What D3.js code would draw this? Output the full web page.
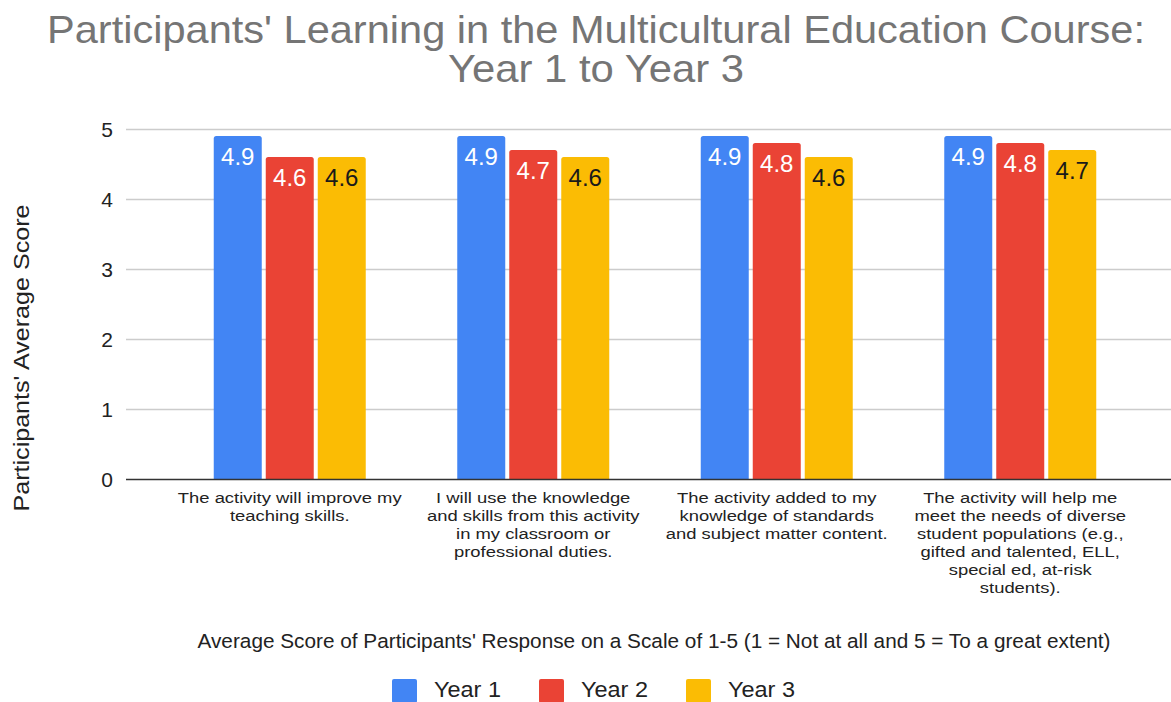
<!DOCTYPE html>
<html>
<head>
<meta charset="utf-8">
<script src="https://cdn.jsdelivr.net/npm/d3@7"></script>
<style>
  html, body { margin: 0; padding: 0; background: #fff; }
  svg { display: block; }
  text { font-family: "Liberation Sans", Arial, sans-serif; }
</style>
</head>
<body>
<svg id="chart" width="1171" height="702"></svg>
<script>
// Survey statements (x categories)
const categories = [
  ["The activity will improve my", "teaching skills."],
  ["I will use the knowledge", "and skills from this activity", "in my classroom or", "professional duties."],
  ["The activity added to my", "knowledge of standards", "and subject matter content."],
  ["The activity will help me", "meet the needs of diverse", "student populations (e.g.,", "gifted and talented, ELL,", "special ed, at-risk", "students)."]
];
const seriesNames = ["Year 1", "Year 2", "Year 3"];
const year1 = [4.9, 4.9, 4.9, 4.9];
const year2 = [4.6, 4.7, 4.8, 4.8];
const year3 = [4.6, 4.6, 4.6, 4.7];
const yTicks = [0, 1, 2, 3, 4, 5];
const colors = ["#4285F4", "#EA4335", "#FBBC04"];
const labelColors = ["#ffffff", "#ffffff", "#1a1a1a"];

const titleLines = ["Participants' Learning in the Multicultural Education Course:", "Year 1 to Year 3"];
const yTitle = "Participants' Average Score";
const xTitle = "Average Score of Participants' Response on a Scale of 1-5 (1 = Not at all and 5 = To a great extent)";

const seriesValues = [year1, year2, year3];
const svg = d3.select("#chart");

const plot = { left: 126, right: 1171, top: 129, bottom: 479 };
const y = d3.scaleLinear().domain([0, 5]).range([plot.bottom, plot.top]);
const x = d3.scaleBand().domain(d3.range(categories.length)).range([168, 1142]).padding(0);
const xSub = d3.scaleBand().domain(d3.range(seriesNames.length)).range([-76, 76]).paddingInner(4 / 52).paddingOuter(0);

// Title
const title = svg.append("g").attr("fill", "#757575").attr("font-size", 39);
title.append("text").attr("x", 596).attr("y", 43).attr("text-anchor", "middle")
  .attr("textLength", 1098).attr("lengthAdjust", "spacingAndGlyphs").text(titleLines[0]);
title.append("text").attr("x", 596).attr("y", 82).attr("text-anchor", "middle")
  .attr("textLength", 296).attr("lengthAdjust", "spacingAndGlyphs").text(titleLines[1]);

// Gridlines
svg.append("g").selectAll("line").data(yTicks.filter(t => t > 0)).join("line")
  .attr("x1", plot.left).attr("x2", plot.right)
  .attr("y1", d => y(d) + 0.5).attr("y2", d => y(d) + 0.5)
  .attr("stroke", "#cccccc").attr("stroke-width", 1.3);

// Y axis tick labels
const yAxis = d3.axisLeft(y).tickValues(yTicks).tickSize(0).tickPadding(0).tickFormat(d3.format("d"));
const gy = svg.append("g").attr("transform", `translate(${113},0)`).call(yAxis);
gy.select(".domain").remove();
gy.selectAll("text").attr("font-size", 21).attr("fill", "#222").attr("font-family", "Liberation Sans, Arial, sans-serif").attr("dy", "0.35em");

// Y axis title
svg.append("text").attr("transform", `translate(29,${358}) rotate(-90)`)
  .attr("text-anchor", "middle").attr("font-size", 22).attr("fill", "#222")
  .attr("textLength", 307).attr("lengthAdjust", "spacingAndGlyphs").text(yTitle);

// Bars
const rows = [];
categories.forEach((c, i) => seriesValues.forEach((vals, s) => rows.push({ i, s, v: vals[i] })));

function topRoundedRect(x0, y0, w, h, r) {
  return `M${x0},${y0 + h}V${y0 + r}Q${x0},${y0} ${x0 + r},${y0}H${x0 + w - r}Q${x0 + w},${y0} ${x0 + w},${y0 + r}V${y0 + h}Z`;
}

const bars = svg.append("g");
bars.selectAll("path").data(rows).join("path")
  .attr("d", d => {
    const bx = x(d.i) + x.bandwidth() / 2 + xSub(d.s);
    return topRoundedRect(bx, y(d.v), xSub.bandwidth(), y(0) - y(d.v), 2.5);
  })
  .attr("fill", d => colors[d.s]);

// Value labels inside bar tops
bars.selectAll("text").data(rows).join("text")
  .attr("x", d => x(d.i) + x.bandwidth() / 2 + xSub(d.s) + xSub.bandwidth() / 2)
  .attr("y", d => y(d.v) + 29)
  .attr("text-anchor", "middle")
  .attr("font-family", "Roboto, sans-serif")
  .attr("font-size", 24)
  .attr("fill", d => labelColors[d.s])
  .text(d => d3.format(".1f")(d.v));

// Baseline
svg.append("line").attr("x1", plot.left).attr("x2", plot.right)
  .attr("y1", y(0) + 0.5).attr("y2", y(0) + 0.5)
  .attr("stroke", "#333").attr("stroke-width", 1.5);

// Category labels: one text per line, widths taken from an 18.4px measure
// and drawn at a slightly smaller size so stacked lines stay clear.
const xl = svg.append("g").attr("fill", "#222").attr("text-anchor", "middle");
categories.forEach((lines, i) => {
  const cx = x(i) + x.bandwidth() / 2;
  lines.forEach((ln, k) => {
    const t = xl.append("text").attr("x", cx).attr("y", 503 + k * 18)
      .attr("font-size", 18.4).text(ln);
    const w = t.node().getComputedTextLength();
    t.attr("font-size", 15.5).attr("textLength", w).attr("lengthAdjust", "spacingAndGlyphs");
  });
});

// X axis title
svg.append("text").attr("x", 654).attr("y", 648).attr("text-anchor", "middle")
  .attr("font-size", 20.5).attr("fill", "#222")
  .attr("textLength", 913).attr("lengthAdjust", "spacingAndGlyphs").text(xTitle);

// Legend
const legendX = [392, 539, 686];
const legend = svg.append("g");
seriesNames.forEach((name, s) => {
  legend.append("rect").attr("x", legendX[s]).attr("y", 679).attr("width", 25).attr("height", 24)
    .attr("rx", 2).attr("fill", colors[s]);
  legend.append("text").attr("x", legendX[s] + 42).attr("y", 697)
    .attr("font-size", 22).attr("fill", "#222")
    .attr("textLength", 67).attr("lengthAdjust", "spacingAndGlyphs").text(name);
});
</script>
</body>
</html>
